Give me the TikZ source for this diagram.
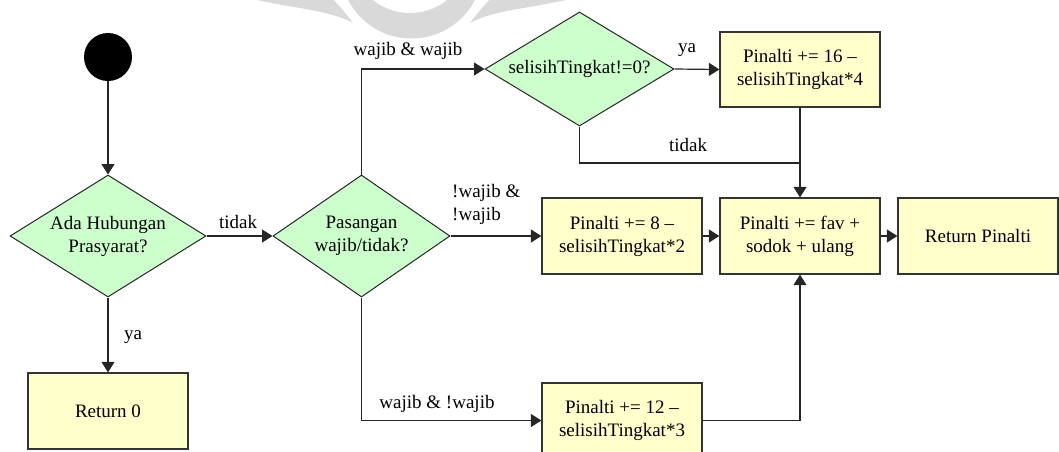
\documentclass[tikz,border=0pt]{standalone}
\usepackage{fontspec}
\setmainfont{Liberation Serif}
\usetikzlibrary{shapes.geometric,arrows.meta}
\definecolor{dgreen}{HTML}{CCFFCC}
\definecolor{byellow}{HTML}{FFFFCC}
\definecolor{wmark}{HTML}{D9D9D9}
\newcommand\myfs{\fontsize{19}{23}\selectfont}
\begin{document}
\begin{tikzpicture}[x=1pt,y=-1pt,
  dia/.style={diamond, draw=black!85, fill=dgreen, line width=1pt, inner sep=0pt, aspect=1.6, align=center, font=\myfs},
  box/.style={rectangle, draw=black!80, fill=byellow, line width=1.3pt, minimum width=160pt, minimum height=76pt, align=center, inner sep=0pt, font=\myfs},
  arr/.style={-{Triangle[length=10.5pt,width=13pt]}, line width=1.2pt, draw=black!85},
  ln/.style={line width=1.2pt, draw=black!85},
  lbl/.style={inner sep=0pt, font=\myfs}]
\useasboundingbox (0,0) rectangle (1059,451);
\clip (0,0) rectangle (1059,451);
% watermark
\fill[wmark, even odd rule] (411.5,-33) circle[radius=71.5] (410,-47) circle[radius=60];
\fill[wmark] (253,-1) .. controls (290,8) and (330,10) .. (353,23) .. controls (345,12) and (338,5) .. (333,-1) -- cycle;
\fill[wmark] (570,-1) .. controls (533,8) and (493,10) .. (470,23) .. controls (478,12) and (485,5) .. (490,-1) -- cycle;
% nodes
\node[circle, fill=black, minimum size=48pt, inner sep=0pt] (start) at (108,57) {};
\node[dia, minimum width=196pt, minimum height=122pt] (d1) at (108,236) {Ada Hubungan\\Prasyarat?};
\node[dia, minimum width=177pt, minimum height=122pt] (d2) at (361.5,236) {Pasangan\\wajib/tidak?};
\node[dia, minimum width=189pt, minimum height=114pt] (d3) at (579.5,69) {selisihTingkat!=0?};
\node[box] (r0) at (108,411) {Return 0};
\node[box, minimum height=75pt] (p16) at (800,69.5) {Pinalti += 16 –\\selisihTingkat*4};
\node[box] (pfav) at (800,236) {Pinalti += fav +\\sodok + ulang};
\node[box] (p8) at (622,236) {Pinalti += 8 –\\selisihTingkat*2};
\node[box] (pret) at (978,236) {Return Pinalti};
\node[box, minimum height=75pt] (p12) at (622,420.5) {Pinalti += 12 –\\selisihTingkat*3};
\coordinate (j) at (800,163);
% connectors
\draw[arr] (start) -- (d1.north);
\draw[arr] (d1.east) -- (d2.west);
\draw[arr] (d1.south) -- (r0.north);
\draw[arr] (d2.north) |- (d3.west);
\draw[arr] (d3.east) -- (p16.west);
\draw[ln] (d3.south) |- (j);
\draw[arr] (p16.south) -- (pfav.north);
\draw[arr] (d2.east) -- (p8.west);
\draw[arr] (p8.east) -- (pfav.west);
\draw[arr] (pfav.east) -- (pret.west);
\draw[arr] (d2.south) |- (p12.west);
\draw[arr] (p12.east) -| (pfav.south);
% labels
\node[lbl] (ltidak1) at (238,222) {tidak};
\node[lbl, anchor=west] (lya1) at (124,337) {ya};
\node[lbl] (lww) at (408,51) {wajib \& wajib};
\node[lbl] (lya2) at (687,50) {ya};
\node[lbl] (ltidak2) at (688,145) {tidak};
\node[lbl, anchor=north west, align=left] (lnn) at (452,184) {!wajib \&\\!wajib};
\node[lbl] (lwn) at (437,404) {wajib \& !wajib};
\end{tikzpicture}
\end{document}
